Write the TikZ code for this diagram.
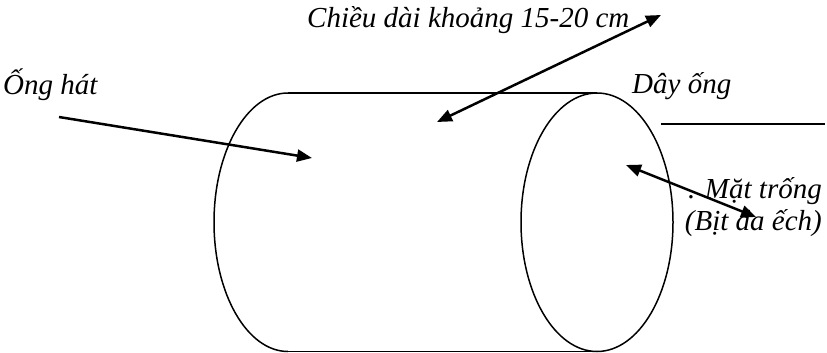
\documentclass[tikz,border=0pt]{standalone}
\usepackage{fontspec}
\setmainfont{Liberation Serif}
\usetikzlibrary{arrows.meta}
\begin{document}
\begin{tikzpicture}[x=1pt,y=-1pt,
  lbl/.style={inner sep=0pt,anchor=base west,font=\fontsize{29}{34}\selectfont\itshape},
  body/.style={line width=1.5pt},
  pointer/.style={line width=2.5pt,-{Triangle[length=15pt,width=12pt]}},
  twoway/.style={line width=2.5pt,{Triangle[length=15pt,width=12pt]}-{Triangle[length=15pt,width=12pt]}}]
\useasboundingbox (0,0) rectangle (827,353);
% cylinder
\coordinate (tl) at (288,93);
\coordinate (tr) at (597,93);
\coordinate (bl) at (288,351.5);
\coordinate (br) at (597,351.5);
\coordinate (rc) at (597,222.25);
\draw[body] (tl) arc[start angle=270,end angle=90,x radius=74,y radius=129.25];
\draw[body] (tl) -- (tr);
\draw[body] (bl) -- (br);
\draw[body] (rc) ellipse[x radius=76,y radius=129.25];
% labels
\node[lbl] (len) at (307,28) {Chiều dài khoảng 15-20 cm};
\node[lbl] (ong) at (3,95) {Ống hát};
\node[lbl] (day) at (632,93) {Dây ống};
\node[lbl,anchor=base east] (mat) at (822,198) {. Mặt trống};
\node[lbl,anchor=base east] (bit) at (822,230) {(Bịt da ếch)};
% connector end points
\coordinate (a1s) at (59,117);
\coordinate (a1e) at (312,158);
\coordinate (a2s) at (437,122);
\coordinate (a2e) at (661,15);
\coordinate (a3s) at (626,165);
\coordinate (a3e) at (756,217);
\coordinate (hs) at (661,124);
\coordinate (he) at (825,124);
\draw[pointer] (a1s) -- (a1e);
\draw[twoway] (a2s) -- (a2e);
\draw[twoway] (a3s) -- (a3e);
\draw[line width=1.4pt] (hs) -- (he);
\end{tikzpicture}
\end{document}
